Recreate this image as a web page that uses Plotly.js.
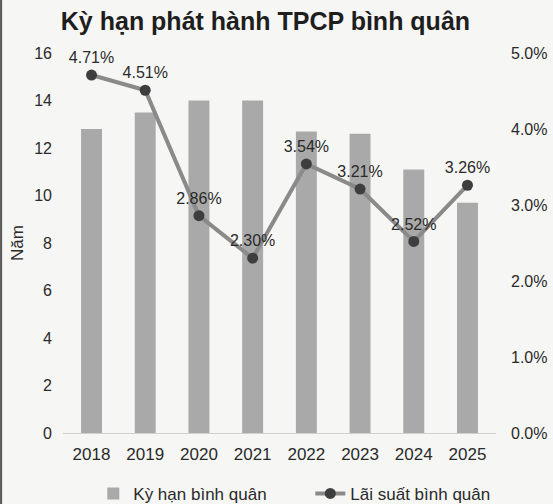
<!DOCTYPE html>
<html>
<head>
<meta charset="utf-8">
<script src="https://cdn.plot.ly/plotly-3.0.1.min.js"></script>
<style>html,body{margin:0;padding:0;background:#f6f6f4;}#chart{width:553px;height:504px;}</style>
</head>
<body>
<div id="chart"></div>
<script>
const years = ['2018', '2019', '2020', '2021', '2022', '2023', '2024', '2025'];
const tenor = [12.8, 13.5, 14.0, 14.0, 12.7, 12.6, 11.1, 9.7];
const rate = [0.0471, 0.0451, 0.0286, 0.0230, 0.0354, 0.0321, 0.0252, 0.0326];
const tenorName = 'Kỳ hạn bình quân';
const rateName = 'Lãi suất bình quân';
const titleText = 'Kỳ hạn phát hành TPCP bình quân';

const font = 'Liberation Sans, Arial, sans-serif';
const txt = '#2a2a2a';

const traces = [
  {
    type: 'bar', x: years, y: tenor, name: tenorName,
    marker: {color: '#a9a9a9'}, hoverinfo: 'x+y'
  },
  {
    type: 'scatter', mode: 'lines+markers+text', x: years, y: rate, yaxis: 'y2',
    name: rateName,
    line: {color: '#8a8a8a', width: 4},
    marker: {color: '#3e3e3e', size: 11},
    texttemplate: '%{y:.2%}', textposition: 'top center',
    textfont: {family: font, size: 16, color: txt}, cliponaxis: false
  }
];

const layout = {
  width: 553, height: 504,
  paper_bgcolor: '#f6f6f4', plot_bgcolor: '#f6f6f4',
  margin: {l: 63, r: 57, t: 53, b: 71},
  font: {family: font, size: 16, color: txt},
  title: {text: '<b>' + titleText + '</b>', font: {family: font, size: 25, color: '#1e1e1e'},
          x: 0.48, xanchor: 'center', y: 0.957, yanchor: 'middle', yref: 'container'},
  bargap: 0.61,
  showlegend: true,
  legend: {orientation: 'h', x: 0.07, xanchor: 'left', y: 0.02, yanchor: 'middle', yref: 'container',
           font: {family: font, size: 17, color: txt}, bgcolor: 'rgba(0,0,0,0)', entrywidth: 172},
  xaxis: {type: 'category', showgrid: false, zeroline: false, showline: true, linecolor: '#d0d0d0', linewidth: 1,
          ticks: '', tickfont: {size: 17, color: txt}, ticklabelstandoff: 6},
  yaxis: {range: [0, 16], dtick: 2, showgrid: false, zeroline: false, ticks: '',
          tickfont: {size: 16, color: txt}, ticklabelstandoff: 10,
          title: {text: 'Năm', font: {size: 17, color: txt}, standoff: 6}},
  yaxis2: {range: [0, 0.05], dtick: 0.01, tickformat: '.1%', overlaying: 'y', side: 'right',
           showgrid: false, zeroline: false, ticks: '', tickfont: {size: 16, color: txt}, ticklabelstandoff: 14},
  shapes: [
    {type: 'line', xref: 'paper', yref: 'paper', x0: -0.143, x1: -0.143, y0: -0.2, y1: 1.15,
     line: {color: '#555', width: 2}}
  ]
};

Plotly.newPlot('chart', traces, layout, {displayModeBar: false, staticPlot: true});
</script>
</body>
</html>
